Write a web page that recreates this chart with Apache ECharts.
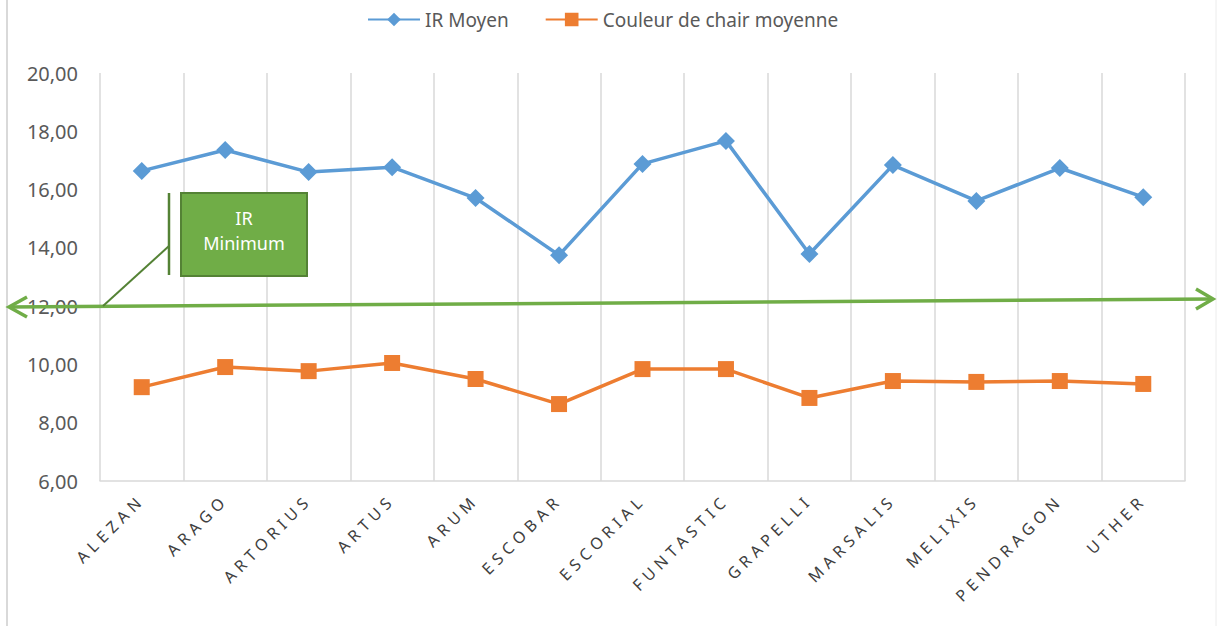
<!DOCTYPE html>
<html>
<head>
<meta charset="utf-8">
<script src="https://cdn.jsdelivr.net/npm/echarts@6/dist/echarts.min.js"></script>
<style>
  html, body { margin: 0; padding: 0; background: #fff; }
  #chart { width: 1217px; height: 626px; }
</style>
</head>
<body>
<div id="chart"></div>
<script>
// variétés et moyennes relevées
const varieties = ['ALEZAN', 'ARAGO', 'ARTORIUS', 'ARTUS', 'ARUM', 'ESCOBAR', 'ESCORIAL',
  'FUNTASTIC', 'GRAPELLI', 'MARSALIS', 'MELIXIS', 'PENDRAGON', 'UTHER'];
const irMoyen = [16.64, 17.36, 16.60, 16.77, 15.71, 13.75, 16.88, 17.67, 13.79, 16.84, 15.61, 16.74, 15.74];
const couleurChair = [9.22, 9.91, 9.77, 10.05, 9.50, 8.64, 9.84, 9.84, 8.85, 9.43, 9.40, 9.43, 9.33];
const seriesNames = ['IR Moyen', 'Couleur de chair moyenne'];
const irMinimum = 12;

const FONT = '"Noto Sans", "Open Sans", sans-serif';
const GREY = '#595959';
const GRID = '#d9d9d9';
const GREEN = '#70AD47';
const DARK_GREEN = '#548235';

const chart = echarts.init(document.getElementById('chart'), null, { renderer: 'svg' });

const option = {
  animation: false,
  backgroundColor: '#fff',
  legend: {
    data: seriesNames,
    left: 362,
    top: 5,
    itemWidth: 52,
    itemHeight: 17,
    itemGap: 36,
    textStyle: { color: GREY, fontSize: 19, fontFamily: FONT }
  },
  grid: { left: 100, right: 32, top: 73, bottom: 145, containLabel: false },
  xAxis: {
    type: 'category',
    data: varieties,
    boundaryGap: true,
    axisLine: { show: true, lineStyle: { color: GRID, width: 1.5 } },
    axisTick: { show: false },
    splitLine: { show: true, lineStyle: { color: GRID, width: 1.5 } },
    axisLabel: {
      interval: 0,
      rotate: 45,
      margin: 16,
      color: '#404040',
      fontSize: 16,
      fontFamily: FONT
    }
  },
  yAxis: {
    type: 'value',
    min: 6,
    max: 20,
    interval: 2,
    axisLine: { show: false },
    axisTick: { show: false },
    splitLine: { show: false },
    axisLabel: {
      margin: 22,
      color: GREY,
      fontSize: 20,
      fontFamily: FONT,
      formatter: v => v.toFixed(2).replace('.', ',')
    }
  },
  series: [
    {
      name: seriesNames[0],
      type: 'line',
      data: irMoyen,
      symbol: 'diamond',
      symbolSize: [18, 18],
      lineStyle: { width: 3.5, color: '#5B9BD5' },
      itemStyle: { color: '#5B9BD5' },
      z: 3
    },
    {
      name: seriesNames[1],
      type: 'line',
      data: couleurChair,
      symbol: 'rect',
      symbolSize: 16,
      lineStyle: { width: 3.5, color: '#ED7D31' },
      itemStyle: { color: '#ED7D31' },
      z: 3
    }
  ]
};

chart.setOption(option);

// annotation "IR Minimum" (flèche tracée à la main dans l'original)
const yL = Math.round(chart.convertToPixel({ yAxisIndex: 0 }, irMinimum)) + 1;
const yR = yL - 8;
const arrowStyle = { stroke: GREEN, lineWidth: 3.5, fill: null };

chart.setOption({
  graphic: [
    { type: 'line', shape: { x1: 7, y1: 0, x2: 7, y2: 626 }, style: { stroke: GRID, lineWidth: 2 }, z: 1 },
    { type: 'line', shape: { x1: 1216, y1: 0, x2: 1216, y2: 626 }, style: { stroke: '#ececec', lineWidth: 1 }, z: 1 },
    { type: 'line', shape: { x1: 9, y1: yL, x2: 1213, y2: yR }, style: arrowStyle, z: 10 },
    { type: 'polyline', shape: { points: [[27, yL - 10], [9, yL], [27, yL + 10]] }, style: arrowStyle, z: 10 },
    { type: 'polyline', shape: { points: [[1196, yR - 10], [1213, yR], [1196, yR + 10]] }, style: arrowStyle, z: 10 },
    { type: 'line', shape: { x1: 103, y1: yL - 1, x2: 169, y2: 246 }, style: { stroke: DARK_GREEN, lineWidth: 2 }, z: 10 },
    { type: 'line', shape: { x1: 169, y1: 193, x2: 169, y2: 275 }, style: { stroke: DARK_GREEN, lineWidth: 2.5 }, z: 10 },
    {
      type: 'rect',
      shape: { x: 181, y: 193, width: 126, height: 83 },
      style: { fill: GREEN, stroke: DARK_GREEN, lineWidth: 2 },
      z: 10
    },
    {
      type: 'text',
      x: 244,
      y: 230,
      style: {
        text: 'IR\nMinimum',
        fill: '#fff',
        font: '18px ' + FONT,
        lineHeight: 25,
        align: 'center',
        verticalAlign: 'middle'
      },
      z: 11
    }
  ]
});

// étiquettes de l'axe X espacées comme dans Excel
function spaceLabels() {
  document.querySelectorAll('#chart svg text').forEach(t => {
    if (varieties.indexOf(t.textContent.trim()) >= 0) t.style.letterSpacing = '5px';
  });
}
chart.on('finished', spaceLabels);
spaceLabels();
setTimeout(spaceLabels, 50);
</script>
</body>
</html>
